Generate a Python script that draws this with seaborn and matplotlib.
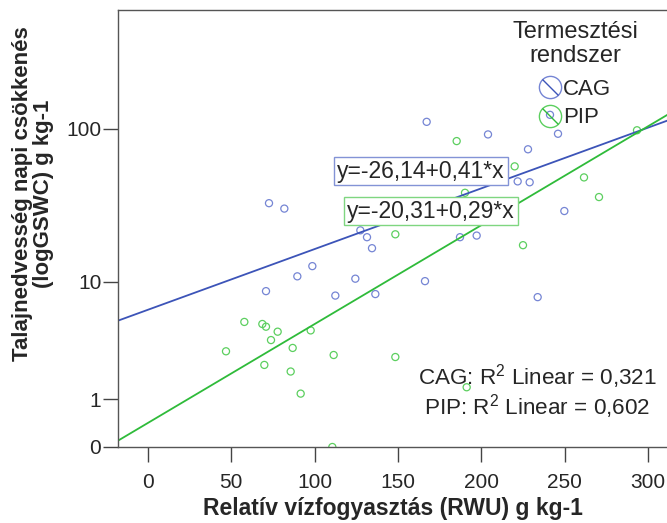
import numpy as np
import pandas as pd
import seaborn as sns
import matplotlib.pyplot as plt
from matplotlib.lines import Line2D
from matplotlib.legend_handler import HandlerTuple

# values (RWU in g kg-1, GSWC in g kg-1)
cag_rwu = [72.6, 81.8, 127.4, 131.4, 134.4, 98.6, 89.6, 124.4, 70.8, 112.4, 136.4, 167.2,
           204.0, 246.0, 228.0, 241.2, 221.8, 229.0, 249.8, 187.2, 197.2, 166.2, 233.8]
cag_gswc = [33.4, 30.8, 22.2, 20.0, 16.9, 12.8, 10.9, 10.5, 8.6, 8.0, 8.2, 111.0,
            92.3, 93.2, 74.2, 123.0, 46.2, 45.6, 29.7, 20.0, 20.5, 10.1, 7.8]
pip_rwu = [185.2, 220.0, 293.4, 261.6, 270.6, 190.2, 225.0, 148.4, 148.4, 191.2, 57.8, 68.6,
           70.8, 77.8, 73.8, 97.6, 46.8, 86.8, 111.4, 69.8, 85.6, 91.6, 110.6]
pip_gswc = [83.7, 57.7, 98.1, 49.0, 36.6, 39.0, 17.7, 20.9, 2.69, 1.38, 5.14, 4.96,
            4.73, 4.33, 3.72, 4.43, 3.01, 3.21, 2.80, 2.29, 1.99, 1.17, 0.0]

groups = ["CAG", "PIP"]
# fit lines as drawn in the reference (log10(GSWC+1) against RWU)
fit_intercept = [0.865, 0.152]
fit_slope = [0.003825, 0.00623]
equations = ["y=-26,14+0,41*x", "y=-20,31+0,29*x"]
r2_values = ["0,321", "0,602"]
x_ticks = [0, 50, 100, 150, 200, 250, 300]
y_tick_values = [0, 1, 10, 100]

df = pd.DataFrame({
    "rwu": cag_rwu + pip_rwu,
    "gswc": cag_gswc + pip_gswc,
    "rendszer": [groups[0]] * len(cag_rwu) + [groups[1]] * len(pip_rwu),
})
df["log_gswc"] = np.log10(df["gswc"] + 1)

marker_colors = {"CAG": "#7585d4", "PIP": "#5ccf5f"}
line_colors = {"CAG": "#3c54b8", "PIP": "#2fbb3a"}
box_colors = {"CAG": "#8393d6", "PIP": "#7fd680"}

sns.set_style("ticks")
plt.rcParams['font.family'] = ['Liberation Sans', 'DejaVu Sans']
plt.rcParams['mathtext.fontset'] = 'custom'
plt.rcParams['mathtext.rm'] = 'Liberation Sans'

fig = plt.figure(figsize=(6.67, 5.23), dpi=100)
ax = fig.add_axes([118 / 667, 76 / 523, 552 / 667, 437 / 523])
xlim = (-18, 313.2)
ax.set_xlim(*xlim)
ax.set_ylim(0, 2.754)

for i, g in enumerate(groups):
    sub = df[df["rendszer"] == g]
    line_df = pd.DataFrame({"rwu": list(xlim)})
    line_df["log_gswc"] = fit_intercept[i] + fit_slope[i] * line_df["rwu"]
    sns.lineplot(data=line_df, x="rwu", y="log_gswc", ax=ax, color=line_colors[g], lw=1.3)
    sns.scatterplot(data=sub, x="rwu", y="log_gswc", ax=ax, marker="o", s=26,
                    facecolor="none", edgecolor=marker_colors[g], linewidth=0.9)

ax.set_xlim(*xlim)
ax.set_ylim(0, 2.754)
ax.set_xticks(x_ticks)
ax.set_xticklabels([str(t) for t in x_ticks])
ax.set_yticks(np.log10(np.array(y_tick_values) + 1))
ax.set_yticklabels([str(t) for t in y_tick_values])
ax.tick_params(axis="both", length=11, width=1, color="#444444", labelsize=15)
ax.tick_params(axis="x", pad=8)
ax.tick_params(axis="y", pad=1)
for sp in ax.spines.values():
    sp.set_color("#555555")
    sp.set_linewidth(1)
ax.set_xlabel("")
ax.set_ylabel("")

fig.text(393 / 667, 1 - 508 / 523, "Relatív vízfogyasztás (RWU) g kg-1",
         ha="center", va="center", fontsize=16.5, fontweight="bold")
fig.text(33 / 667, 1 - 194 / 523, "Talajnedvesség napi csökkenés\n(logGSWC) g kg-1",
         ha="center", va="center", rotation=90, fontsize=16, fontweight="bold",
         multialignment="center", linespacing=1.0)

# regression equations in boxes
ax.text(163.8, 1.739, equations[0], ha="center", va="center", fontsize=16.5,
        bbox=dict(boxstyle="square,pad=0.12", fc="white", ec=box_colors["CAG"], lw=1))
ax.text(169.8, 1.487, equations[1], ha="center", va="center", fontsize=16.5,
        bbox=dict(boxstyle="square,pad=0.12", fc="white", ec=box_colors["PIP"], lw=1))

ax.text(0.759, 0.127, f"CAG: R$^2$ Linear = {r2_values[0]}\nPIP: R$^2$ Linear = {r2_values[1]}",
        transform=ax.transAxes, ha="center", va="center", fontsize=16.2,
        multialignment="center", linespacing=1.05)

# legend title drawn as its own text, entries below it
ax.text(0.828, 1 - 34 / 437, "Termesztési\nrendszer", transform=ax.transAxes,
        ha="center", va="center", fontsize=17, multialignment="center", linespacing=1.12)

handles = []
for g in groups:
    circ = Line2D([], [], marker="o", ms=16, mfc="none", mec=marker_colors[g], mew=1, ls="none")
    diag = Line2D([], [], marker=[(-1, 1), (1, -1)], ms=11.5, mfc="none",
                  mec=line_colors[g], mew=1, ls="none")
    handles.append((circ, diag))
leg = ax.legend(handles, groups, frameon=False,
                loc="upper center", bbox_to_anchor=(0.828, 1 - 69 / 437), fontsize=16,
                handler_map={tuple: HandlerTuple(ndivide=1)},
                handlelength=1.0, handletextpad=0.1, labelspacing=0.33,
                borderpad=0, borderaxespad=0)

fig.savefig("out.png", dpi=100)
